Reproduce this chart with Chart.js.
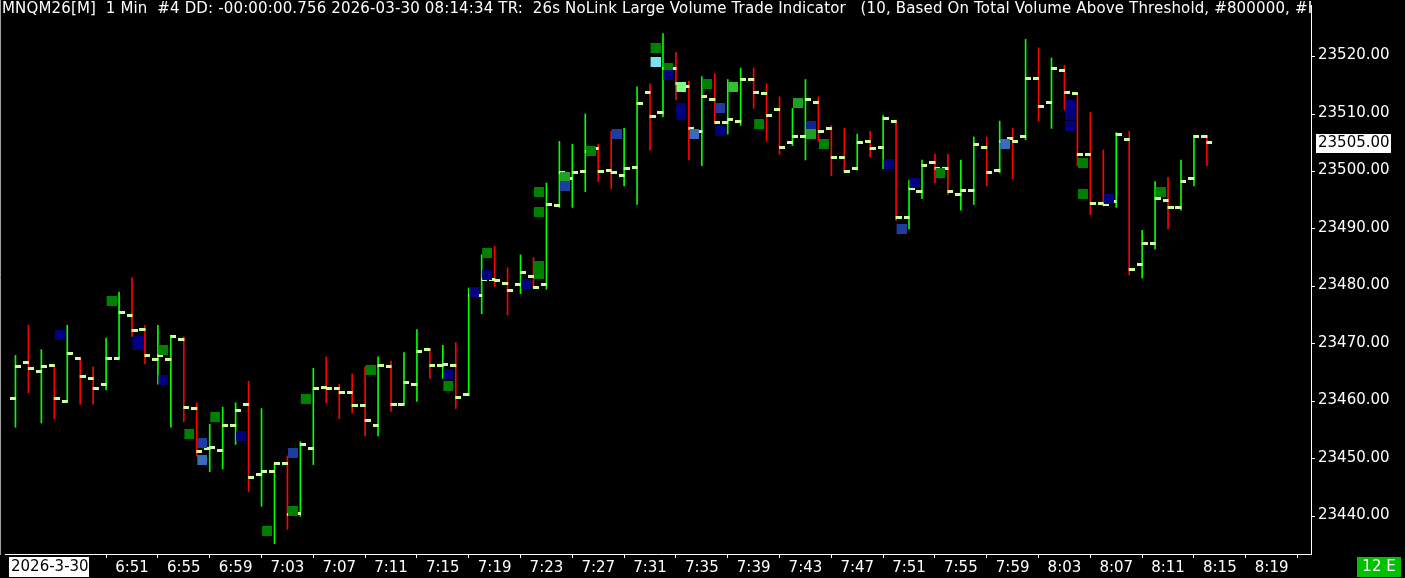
<!DOCTYPE html>
<html><head><meta charset="utf-8">
<script src="https://cdn.jsdelivr.net/npm/chart.js@4/dist/chart.umd.min.js"></script>
<style>html,body{margin:0;padding:0;background:#000;overflow:hidden}#wrap{width:1405px;height:578px;position:relative}</style>
</head><body><div id="wrap"><canvas id="c" width="1405" height="578"></canvas></div>
<script>
const times = ['6:42','6:43','6:44','6:45','6:46','6:47','6:48','6:49','6:50','6:51',
'6:52','6:53','6:54','6:55','6:56','6:57','6:58','6:59','7:00','7:01',
'7:02','7:03','7:04','7:05','7:06','7:07','7:08','7:09','7:10','7:11',
'7:12','7:13','7:14','7:15','7:16','7:17','7:18','7:19','7:20','7:21',
'7:22','7:23','7:24','7:25','7:26','7:27','7:28','7:29','7:30','7:31',
'7:32','7:33','7:34','7:35','7:36','7:37','7:38','7:39','7:40','7:41',
'7:42','7:43','7:44','7:45','7:46','7:47','7:48','7:49','7:50','7:51',
'7:52','7:53','7:54','7:55','7:56','7:57','7:58','7:59','8:00','8:01',
'8:02','8:03','8:04','8:05','8:06','8:07','8:08','8:09','8:10','8:11',
'8:12','8:13','8:14'];
const opens = [23460.5,23466.75,23465.25,23466.25,23460.0,23467.5,23464.0,23463.0,23467.5,23475.0,
23472.5,23467.25,23467.25,23470.75,23458.75,23451.75,23451.5,23455.75,23459.5,23447.25,
23447.75,23449.25,23440.5,23451.75,23462.5,23462.25,23461.5,23459.25,23455.75,23466.0,
23459.5,23463.0,23469.0,23466.25,23466.25,23461.25,23478.5,23481.25,23480.5,23480.25,
23481.75,23480.25,23494.0,23498.75,23500.0,23504.0,23500.25,23499.25,23500.75,23513.75,
23510.25,23518.0,23514.75,23507.0,23512.5,23508.5,23508.75,23516.0,23513.5,23510.75,
23505.0,23506.0,23512.0,23507.5,23502.5,23500.5,23505.25,23504.25,23508.75,23492.0,
23496.5,23501.5,23500.5,23496.0,23496.75,23504.25,23500.25,23505.75,23506.0,23516.25,
23512.0,23517.5,23513.5,23503.0,23494.5,23494.75,23505.5,23483.75,23487.5,23495.0,
23493.75,23498.75,23506.0];
const highs = [23468.0,23473.25,23469.0,23466.25,23473.25,23467.5,23466.0,23471.0,23479.0,23481.5,
23473.25,23473.25,23471.5,23471.25,23459.75,23456.0,23459.0,23459.75,23463.5,23458.75,
23449.25,23450.5,23453.0,23465.75,23467.75,23463.0,23464.75,23466.0,23467.75,23467.0,
23468.5,23472.5,23469.0,23469.75,23470.25,23479.75,23485.5,23487.0,23483.25,23485.5,
23485.0,23498.0,23505.25,23504.75,23510.0,23504.75,23507.0,23507.5,23514.75,23515.25,
23524.0,23520.75,23515.75,23516.5,23517.0,23516.0,23518.0,23518.0,23515.25,23513.0,
23511.0,23516.0,23513.0,23508.0,23507.5,23506.5,23507.0,23509.75,23509.0,23498.5,
23502.0,23503.0,23503.0,23502.0,23506.0,23506.0,23508.75,23507.5,23523.0,23521.5,
23519.75,23518.5,23513.5,23510.25,23503.75,23506.75,23507.0,23489.75,23498.25,23499.0,
23502.0,23506.25,23506.25];
const lows = [23455.5,23461.5,23456.25,23457.0,23460.0,23459.5,23459.5,23462.0,23467.5,23471.25,
23466.5,23463.0,23455.5,23456.5,23450.5,23447.75,23448.25,23452.5,23444.25,23441.75,
23435.25,23437.75,23440.0,23449.0,23459.75,23457.0,23458.0,23454.0,23454.0,23458.25,
23459.5,23460.0,23464.0,23464.0,23458.75,23461.0,23475.25,23480.0,23475.0,23478.75,
23479.75,23479.5,23493.75,23493.75,23496.5,23498.25,23497.0,23497.5,23494.25,23503.75,
23509.5,23512.5,23502.0,23501.0,23508.5,23506.5,23508.0,23511.0,23505.25,23503.0,
23504.5,23502.0,23505.25,23499.25,23500.0,23500.25,23502.5,23500.5,23491.5,23490.0,
23495.25,23498.0,23496.0,23493.25,23494.25,23497.5,23499.75,23498.75,23505.5,23508.75,
23507.5,23510.75,23501.0,23492.5,23494.0,23493.75,23482.0,23481.5,23486.5,23490.0,
23493.25,23497.5,23501.0];
const closes = [23466.0,23465.75,23466.0,23460.5,23468.25,23464.25,23462.25,23467.5,23475.5,23472.25,
23468.0,23468.0,23471.25,23459.0,23451.25,23452.0,23455.75,23458.5,23446.75,23447.75,
23449.25,23440.25,23452.5,23462.25,23462.25,23461.5,23459.25,23456.75,23466.25,23459.5,
23463.25,23468.75,23466.25,23466.5,23460.75,23478.5,23481.25,23481.0,23479.25,23482.5,
23479.75,23494.25,23499.75,23499.75,23503.5,23500.0,23499.75,23500.5,23511.75,23509.5,
23518.0,23515.25,23507.5,23513.0,23508.5,23509.0,23516.0,23513.75,23509.75,23504.25,
23506.0,23512.5,23507.0,23502.5,23500.0,23505.0,23504.0,23509.25,23492.0,23497.0,
23501.0,23500.5,23496.5,23496.75,23504.75,23499.75,23505.25,23505.25,23516.25,23511.25,
23518.0,23513.75,23503.0,23494.5,23494.25,23506.5,23483.0,23487.5,23495.25,23493.75,
23498.25,23506.0,23505.0];
// Large volume trade markers: bar index, price, colour
const sqBar = [3,7,9,9,11,11,13,14,14,15,17,19,21,21,22,27,33,33,35,36,36,39,40,40,40,40,42,42,44,46,49,49,50,50,51,51,51,52,53,54,54,55,57,60,61,61,62,67,68,69,71,76,81,81,81,82,82,84,88];
const sqPrice = [23471.5,23477.5,23470.5,23469.75,23469.0,23463.75,23454.25,23452.75,23449.75,23457.25,23454.0,23437.5,23451.0,23441.0,23460.5,23465.5,23464.75,23462.75,23479.0,23485.75,23482.0,23480.5,23496.5,23493.0,23483.5,23482.25,23499.0,23497.5,23503.5,23506.5,23521.5,23519.0,23518.0,23516.75,23514.75,23511.0,23509.75,23506.5,23515.25,23511.0,23507.0,23514.75,23508.25,23512.0,23508.0,23506.5,23504.75,23501.25,23490.0,23498.0,23499.75,23504.75,23511.5,23509.75,23508.0,23501.5,23496.0,23495.25,23496.5];
const sqColor = ['#000080','#008000','#000080','#000080','#008000','#000080','#008000','#1f3ca0','#3a6cbc','#008000',
'#000080','#008000','#1f3ca0','#008000','#008000','#008000','#000080','#008000','#000080','#008000',
'#000080','#000080','#008000','#008000','#008000','#008000','#20a020','#1f3ca0','#008000','#1f3ca0',
'#008000','#80e0f0','#008000','#000080','#80ff80','#000080','#000080','#3a6cbc','#008000','#1f3ca0',
'#000080','#30c030','#008000','#20a020','#12238c','#20a020','#008000','#000080','#1f3ca0','#000080',
'#008000','#3a6cbc','#000080','#000080','#000080','#008000','#008000','#000080','#008000'];
const yTicks = [23440,23450,23460,23470,23480,23490,23500,23510,23520];
const xTickLabels = ['6:51','6:55','6:59','7:03','7:07','7:11','7:15','7:19','7:23','7:27','7:31','7:35','7:39','7:43','7:47','7:51','7:55','7:59','8:03','8:07','8:11','8:15','8:19'];
const titleText = 'MNQM26[M]  1 Min  #4 DD: -00:00:00.756 2026-03-30 08:14:34 TR:  26s NoLink Large Volume Trade Indicator   (10, Based On Total Volume Above Threshold, #800000, #F';
const dateLabel = '2026-3-30';
const lastPrice = 23505.00;
const cornerLabel = '12 E';

const FONT = '"DejaVu Sans", sans-serif';
const UP = '#00ff00', DOWN = '#ff0000', TICK = '#ccff99';
function mk(w, h, fx, fw, col) {
  const c = document.createElement('canvas'); c.width = w; c.height = h;
  const g = c.getContext('2d'); g.fillStyle = col; g.fillRect(fx, 0, fw, h); return c;
}
const openImg = mk(11, 3, 0, 6, TICK);
const closeImg = mk(11, 3, 5, 6, TICK);
const sqCache = {};
function sqImg(col) { return sqCache[col] || (sqCache[col] = mk(21, 10, 11, 10, col)); }
function minuteOf(t) { const p = t.split(':'); return (+p[0]) * 60 + (+p[1]); }
const t0 = minuteOf(times[0]);
const BARW = 13, AREA_W = 1311, FIRST_X = 10.5;
const yPx = 5.8, yRefPx = 52, yRef = 23520, AREA_H = 554;

const barColors = opens.map((o, i) => closes[i] >= o ? UP : DOWN);

const overlay = {
  id: 'overlay',
  beforeDraw(chart) {
    const ctx = chart.ctx; ctx.save(); ctx.fillStyle = '#000'; ctx.fillRect(0, 0, chart.width, chart.height); ctx.restore();
  },
  afterDraw(chart) {
    const ctx = chart.ctx, ca = chart.chartArea, ys = chart.scales.y;
    ctx.save();
    ctx.strokeStyle = '#a0a0a0'; ctx.lineWidth = 1;
    ctx.beginPath(); ctx.moveTo(0.5, 0); ctx.lineTo(0.5, ca.bottom + 1); ctx.stroke();
    ctx.save(); ctx.beginPath(); ctx.rect(0, 0, ca.right, ca.bottom); ctx.clip();
    ctx.font = '15px ' + FONT; ctx.fillStyle = '#fff'; ctx.textBaseline = 'middle'; ctx.textAlign = 'left';
    if ('letterSpacing' in ctx) ctx.letterSpacing = '0.15px';
    ctx.fillText(titleText, 2, 9);
    ctx.restore();
    ctx.font = '15px ' + FONT; ctx.textBaseline = 'middle'; ctx.textAlign = 'left';
    // date box
    ctx.fillStyle = '#fff'; ctx.fillRect(9, 557, 80, 20);
    ctx.fillStyle = '#000'; ctx.fillText(dateLabel, 11, 567);
    // last price marker
    const py = Math.round(ys.getPixelForValue(lastPrice));
    ctx.fillStyle = '#fff'; ctx.fillRect(1316, py - 9, 75, 19);
    ctx.fillStyle = '#000'; ctx.fillText(lastPrice.toFixed(2), 1318, py);
    // corner box
    ctx.fillStyle = '#00c000'; ctx.fillRect(1357, 557, 44, 20);
    ctx.fillStyle = '#fff'; ctx.textAlign = 'center'; ctx.fillText(cornerLabel, 1379, 567);
    ctx.restore();
  }
};

new Chart(document.getElementById('c'), {
  type: 'bar',
  data: {
    datasets: [
      { type: 'scatter', order: 0, data: sqBar.map((b, i) => ({ x: b, y: sqPrice[i] })),
        pointStyle: c => sqImg(sqColor[c.dataIndex]), pointRadius: 3 },
      { type: 'scatter', order: 1, data: opens.map((v, i) => ({ x: i, y: v })), pointStyle: openImg, pointRadius: 3 },
      { type: 'scatter', order: 1, data: closes.map((v, i) => ({ x: i, y: v })), pointStyle: closeImg, pointRadius: 3 },
      { type: 'bar', order: 2, data: highs.map((h, i) => ({ x: i, y: [lows[i], h] })),
        backgroundColor: barColors, barThickness: 1, borderWidth: 0, borderSkipped: false }
    ]
  },
  options: {
    responsive: false, animation: false, devicePixelRatio: 1, events: [],
    layout: { padding: 0 },
    plugins: { legend: { display: false }, tooltip: { enabled: false }, title: { display: false } },
    scales: {
      x: {
        type: 'linear', position: 'bottom', offset: false,
        min: -FIRST_X / BARW, max: (AREA_W - FIRST_X) / BARW,
        afterBuildTicks: s => { s.ticks = xTickLabels.map(l => ({ value: minuteOf(l) - t0, label: l })); },
        afterFit: s => { s.height = 24; s.paddingLeft = 0; s.paddingRight = 0; },
        ticks: { autoSkip: false, maxRotation: 0, color: '#fff', font: { family: FONT, size: 15 }, padding: 1,
          callback: (v) => { const i = xTickLabels.findIndex(l => minuteOf(l) - t0 === v); return i >= 0 ? xTickLabels[i] : ''; } },
        grid: { display: true, drawOnChartArea: false, drawTicks: true, tickLength: 4, color: '#fff' },
        border: { display: true, color: '#fff', width: 1 }
      },
      y: {
        type: 'linear', position: 'right',
        min: yRef - (AREA_H - yRefPx) / yPx, max: yRef + yRefPx / yPx,
        afterBuildTicks: s => { s.ticks = yTicks.map(v => ({ value: v })); },
        afterFit: s => { s.width = 94; s.paddingTop = 0; s.paddingBottom = 0; },
        ticks: { color: '#fff', font: { family: FONT, size: 15 }, padding: 3, labelOffset: -1, callback: v => Number(v).toFixed(2) },
        grid: { display: true, drawOnChartArea: false, drawTicks: true, tickLength: 4, color: '#fff' },
        border: { display: true, color: '#fff', width: 1 }
      }
    }
  },
  plugins: [overlay]
});
</script></body></html>
